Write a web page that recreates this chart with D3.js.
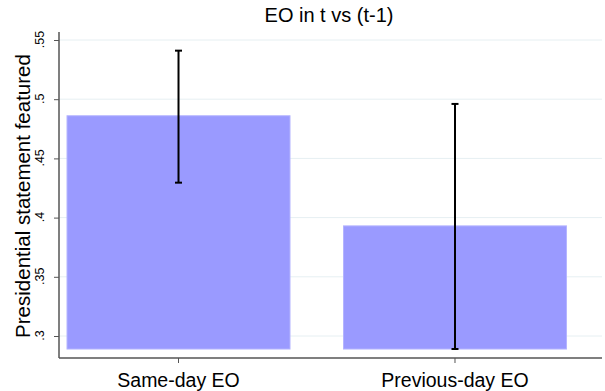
<!DOCTYPE html>
<html>
<head>
<meta charset="utf-8">
<script src="https://cdn.jsdelivr.net/npm/d3@7"></script>
<style>
  body { margin: 0; background: #fff; }
  text { font-family: Arial, "Liberation Sans", sans-serif; fill: #000; }
</style>
</head>
<body>
<svg id="chart" width="605" height="391"></svg>
<script>
var categories = ["Same-day EO", "Previous-day EO"];
var means = [0.486, 0.393];
var ciLow = [0.4295, 0.289];
var ciHigh = [0.541, 0.496];
var yTicks = [0.3, 0.35, 0.4, 0.45, 0.5, 0.55];
var yBase = 0.289;

var svg = d3.select("#chart"),
    plotLeft = 59,
    plotRight = 602,
    plotTop = 32,
    plotBottom = 358;

// y: .3 at 336, .55 at 40
var yScale = d3.scaleLinear().domain([0.3, 0.55]).range([336, 40]);
var xScale = d3.scaleBand().domain(categories)
    .range([plotLeft, 574.5])
    .paddingInner(0.1935)
    .paddingOuter(0.029);

// gridlines
svg.append("g")
    .selectAll("line")
    .data(yTicks)
    .enter().append("line")
    .attr("x1", plotLeft)
    .attr("x2", plotRight)
    .attr("y1", function(d) { return yScale(d); })
    .attr("y2", function(d) { return yScale(d); })
    .attr("stroke", "#e6eff2")
    .attr("stroke-width", 1);

// bars
svg.selectAll(".bar")
    .data(means)
    .enter().append("rect")
    .attr("class", "bar")
    .attr("x", function(d, i) { return xScale(categories[i]); })
    .attr("y", function(d) { return yScale(d); })
    .attr("width", xScale.bandwidth())
    .attr("height", function(d) { return yScale(yBase) - yScale(d); })
    .attr("fill", "#9a9aff")
    .attr("stroke", "#b4b4ff")
    .attr("stroke-width", 1);

// error bars
var eb = svg.append("g").selectAll("g")
    .data(means)
    .enter().append("g")
    .attr("stroke", "#000")
    .attr("stroke-width", 2);

function cx(i) { return xScale(categories[i]) + xScale.bandwidth() / 2; }

eb.append("line")
    .attr("x1", function(d, i) { return cx(i); })
    .attr("x2", function(d, i) { return cx(i); })
    .attr("y1", function(d, i) { return yScale(ciLow[i]); })
    .attr("y2", function(d, i) { return yScale(ciHigh[i]); });
eb.append("line")
    .attr("x1", function(d, i) { return cx(i) - 3.5; })
    .attr("x2", function(d, i) { return cx(i) + 3.5; })
    .attr("y1", function(d, i) { return yScale(ciLow[i]); })
    .attr("y2", function(d, i) { return yScale(ciLow[i]); });
eb.append("line")
    .attr("x1", function(d, i) { return cx(i) - 3.5; })
    .attr("x2", function(d, i) { return cx(i) + 3.5; })
    .attr("y1", function(d, i) { return yScale(ciHigh[i]); })
    .attr("y2", function(d, i) { return yScale(ciHigh[i]); });

// y axis
var yAxis = svg.append("g")
    .attr("transform", "translate(" + plotLeft + ",0)")
    .call(d3.axisLeft(yScale).tickValues(yTicks).tickSize(5).tickSizeOuter(0)
        .tickFormat(function(d) { return d3.format(".2~f")(d).replace(/^0/, ""); }));
yAxis.select(".domain").remove();
yAxis.append("line")
    .attr("x1", 0).attr("x2", 0)
    .attr("y1", plotTop).attr("y2", plotBottom)
    .attr("stroke", "#555").attr("stroke-width", 1.5);
yAxis.selectAll(".tick line").attr("stroke", "#555");
yAxis.selectAll(".tick text")
    .attr("transform", "rotate(-90)")
    .attr("x", 1)
    .attr("y", -15.5)
    .attr("dy", 0)
    .attr("text-anchor", "middle")
    .style("font-size", "12.5px")
    .style("font-family", "Arial, 'Liberation Sans', sans-serif");

// x axis
var xAxis = svg.append("g")
    .attr("transform", "translate(0," + plotBottom + ")")
    .call(d3.axisBottom(xScale).tickSize(5).tickSizeOuter(0));
xAxis.select(".domain").remove();
xAxis.append("line")
    .attr("x1", plotLeft).attr("x2", plotRight)
    .attr("y1", 0).attr("y2", 0)
    .attr("stroke", "#555").attr("stroke-width", 1.5);
xAxis.selectAll(".tick line").attr("stroke", "#555");
xAxis.selectAll(".tick text")
    .attr("y", 10)
    .attr("dy", "0.95em")
    .style("font-size", "19.5px")
    .style("font-family", "Arial, 'Liberation Sans', sans-serif");

// y axis title
svg.append("text")
    .attr("transform", "translate(30," + ((plotTop + plotBottom) / 2 + 1) + ") rotate(-90)")
    .attr("text-anchor", "middle")
    .style("font-size", "20.5px")
    .text("Presidential statement featured");

// title
svg.append("text")
    .attr("x", 329)
    .attr("y", 22)
    .attr("text-anchor", "middle")
    .style("font-size", "20px")
    .text("EO in t vs (t-1)");
</script>
</body>
</html>
